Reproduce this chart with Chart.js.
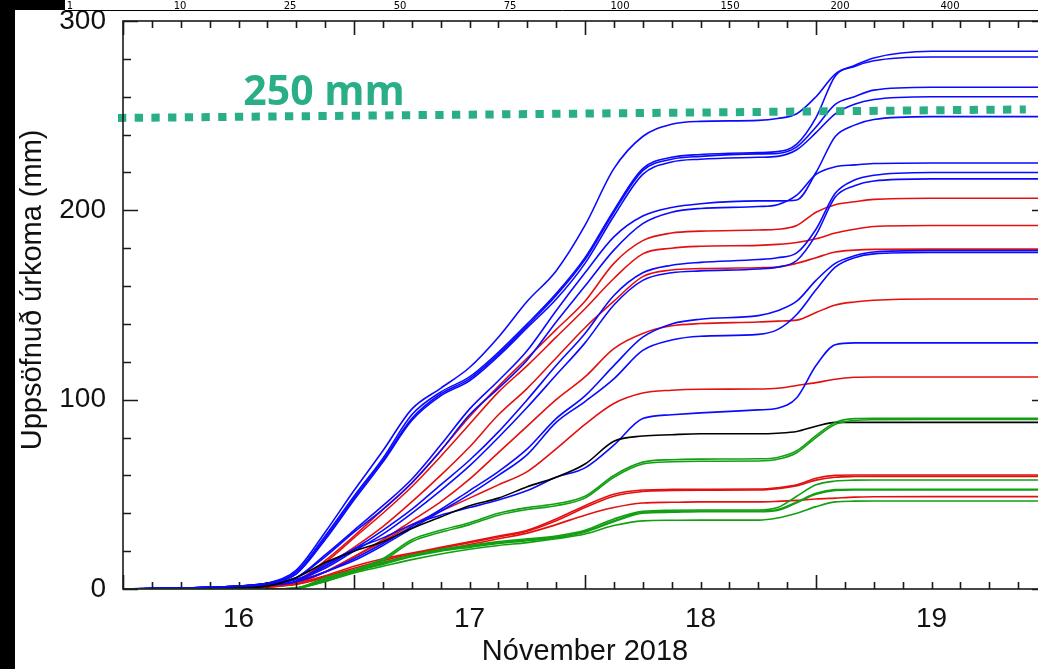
<!DOCTYPE html>
<html><head><meta charset="utf-8">
<script src="https://cdn.jsdelivr.net/npm/chart.js@4/dist/chart.umd.min.js"></script>
<style>
html,body{margin:0;padding:0;background:#fff;overflow:hidden}
#wrap{width:1038px;height:669px;overflow:hidden;position:relative;background:#fff}
canvas{display:block}
</style></head>
<body><div id="wrap"><canvas id="c" width="1060" height="669"></canvas></div>
<script>
// hours after 16 Nov 2018 00:00
const hours = [0, 6, 12, 15, 18, 21, 24, 27, 30, 33, 36, 39, 42, 45, 48, 51, 54, 57, 60, 66, 68, 70, 72, 74, 76, 78, 84, 96];

// blue stations
const blueT  = [0, 0.5, 1.5, 3, 10, 30, 52, 73, 95, 106, 117, 133, 152, 168, 192, 222, 239, 245.5, 247, 247.5, 248.5, 251, 260, 272, 276.5, 280.5, 284, 284];
const blueS1 = [0, 0.5, 1.5, 3, 9, 28, 49, 69, 92, 104, 112, 125, 140, 156, 175, 200, 222, 228, 229.5, 230.5, 231, 235, 249, 271, 276, 279, 281, 281];
const blueS2 = [0, 0.5, 1.5, 3, 8, 27, 48, 68, 90, 103, 111, 124, 139, 155, 174, 199, 221, 227, 228.5, 229.8, 230, 233.5, 244, 256, 260, 263.5, 265, 265];
const blueS3 = [0, 0.5, 1.5, 3, 8, 26, 47, 67, 89, 102, 110, 123, 138, 153, 172, 197, 219, 225.5, 227, 228, 228.5, 232, 241, 251, 256, 258.5, 260, 260];
const blueB5 = [0, 0.5, 1.5, 3, 6, 18, 31, 44, 58, 76, 95, 110, 126, 147, 167, 186, 197, 201.5, 203.5, 205, 205, 205.5, 220, 239, 245, 248, 249.5, 249.5];
const blueB6 = [0, 0.5, 1.5, 3, 6, 17, 30, 42, 56, 73, 92, 106, 121, 141, 160, 179, 193, 199, 201, 202, 203, 208, 219, 223, 224, 224.7, 225, 225];
const blueB7 = [0, 0.5, 1, 2.5, 5, 12, 21, 31, 42, 55, 68, 83, 100, 118, 135, 155, 167, 171, 172.5, 174, 175, 177.5, 190, 209, 216, 218.5, 220, 220];
const blueB8 = [0, 0.5, 1, 2.5, 5, 11, 20, 29, 40, 52, 65, 80, 96, 113, 130, 150, 163, 167, 168, 169, 170, 173.5, 187, 207, 213, 215.5, 216.6, 216.6];
const blueB9 = [0, 0.5, 1, 2, 4, 9, 16, 24, 33, 42, 52, 62, 74, 90, 102, 118, 133, 140, 142.5, 144.4, 147, 152, 163, 172, 176, 178, 178.7, 178.7];
const blueB10 = [0, 0.5, 1, 2, 4, 9, 15, 23, 32, 41, 50, 60, 71, 88, 99, 111, 126, 131.5, 133.5, 134.5, 137, 145, 158, 170, 175, 177, 177.7, 177.7];
const blueB11 = [0, 0.5, 1, 2, 4, 13, 21, 27, 34, 39, 43, 47, 52, 59, 64, 76, 90, 92, 93, 94.6, 95.5, 101, 118, 129, 130, 130, 130, 130];

// red stations
const redR1 = [0, 0, 0.5, 1.5, 4, 15, 28, 42, 56, 73, 91, 107, 122, 137, 152, 172, 184, 188, 189, 189.6, 190, 192, 199, 203, 204.5, 205.8, 206.4, 206.4];
const redR2 = [0, 0, 0.5, 1.5, 4, 14, 27, 40, 54, 70, 87, 104, 118, 133, 148, 164, 177, 180, 181, 181.5, 182, 183, 185, 188, 190, 191.5, 192, 192];
const redR3 = [0, 0, 0.5, 1.5, 3.5, 12, 22, 33, 46, 60, 75, 92, 106, 122, 138, 152, 165, 168.5, 169.2, 169.7, 170, 172, 175, 178, 179, 179.4, 179.5, 179.5];
const redR4 = [0, 0, 0.5, 1.5, 3, 9, 17, 26, 36, 46, 58, 72, 86, 100, 112, 127, 135, 139, 140.2, 141, 141.5, 142, 146, 150, 151.6, 152.5, 153.2, 153.2];
const redR5 = [0, 0, 0.5, 1.5, 3, 9, 17, 25, 34, 41, 48, 55, 62, 74, 87, 98, 103.5, 105, 105.5, 105.6, 106, 107.5, 109, 110.8, 111.8, 112, 112, 112];
const redR6 = [0, 0, 0.3, 1, 3, 7, 12, 16, 19, 22, 25, 28, 31, 37, 44, 50, 52.3, 52.6, 52.7, 52.8, 53.5, 55, 58.5, 60, 60.2, 60.2, 60.2, 60.2];
const redR6b = [0, 0, 0.3, 1, 2.5, 6.5, 11, 15, 18.5, 21.5, 24.5, 27.5, 30.5, 36, 43, 49, 51.5, 52, 52.2, 52.3, 53, 54.5, 57.5, 59, 59.4, 59.5, 59.5, 59.5];
const redR7 = [0, 0, 0.3, 1, 2.5, 6, 10, 14, 17.5, 20.5, 23.5, 26.5, 29.5, 34, 39, 43, 45.4, 45.8, 46, 46, 46.3, 46.8, 47.5, 48, 48.5, 48.7, 48.8, 48.8];

// black station
const blackK = [0, 0, 0.5, 1.5, 6, 14, 20, 25, 32, 38, 44, 48, 54, 59, 66, 78, 80.8, 81.5, 82, 82, 82.3, 83.2, 86, 88, 88, 88, 88, 88];

// green stations
const greenG1 = [0, 0, 0, 0, 0.5, 6, 10, 16, 26, 31, 35, 40, 43, 45, 49, 60, 67, 68.3, 68.6, 68.8, 69.5, 73, 81, 88, 90, 90.2, 90.2, 90.2];
const greenG2 = [0, 0, 0, 0, 0.5, 5.5, 9.5, 15, 25, 30, 34, 39, 42, 44, 48, 59, 66, 67.2, 67.5, 67.6, 68.5, 72, 80, 87, 89, 89.4, 89.5, 89.5];
const greenG3 = [0, 0, 0, 0, 0.5, 5, 10, 14, 18, 21, 23, 25, 26.5, 28, 31, 37, 41, 41.6, 41.7, 41.7, 43, 49, 55, 57, 57.5, 57.6, 57.6, 57.6];
const greenG4 = [0, 0, 0, 0, 0.5, 4.5, 9.5, 13.5, 17.5, 20.5, 22.5, 24.5, 26, 27.5, 30.5, 36, 40.5, 41, 41.2, 41.2, 42, 46, 50.5, 52.5, 52.7, 52.7, 52.7, 52.7];
const greenG4b = [0, 0, 0, 0, 0.5, 4, 9, 13, 17, 20, 22, 24, 25.5, 27, 30, 35.5, 40, 40.5, 40.8, 40.8, 41.5, 45.5, 50, 52, 52.3, 52.3, 52.3, 52.3];
const greenG5 = [0, 0, 0, 0, 0.3, 4, 8.5, 12, 15.5, 18.5, 21, 23, 24.5, 26.5, 29, 33.5, 36, 36.3, 36.4, 36.4, 37.5, 40, 43.5, 46, 46.4, 46.5, 46.5, 46.5];

// 250 mm reference line (end points, hours / mm)
const refLineHours = [-0.52, 93.8];
const refLineMM = [248.8, 253.3];
const refLabel = '250 mm';

// axis labels
const dayTickHours = [12, 36, 60, 84];
const dayTickLabels = ['16', '17', '18', '19'];
const xTitle = 'Nóvember 2018';
const yTitle = 'Uppsöfnuð úrkoma (mm)';
const topScaleLabels = ['1', '10', '25', '50', '75', '100', '150', '200', '400'];

const blueSeries = [blueT, blueS1, blueS2, blueS3, blueB5, blueB6, blueB7, blueB8, blueB9, blueB10, blueB11];
const redSeries = [redR1, redR2, redR3, redR4, redR5, redR6, redR6b, redR7];
const blackSeries = [blackK];
const greenSeries = [greenG1, greenG2, greenG3, greenG4, greenG4b, greenG5];

const TEAL = '#2aae88';
const FONT = '"Liberation Sans", Arial, sans-serif';
function mk(vals, color, order) {
  return {
    data: hours.map((h, i) => ({x: h, y: vals[i]})),
    borderColor: color, borderWidth: 1.6, pointRadius: 0, fill: false,
    cubicInterpolationMode: 'monotone', order: order
  };
}
const datasets = [];
datasets.push({
  data: refLineHours.map((h, i) => ({x: h, y: refLineMM[i]})),
  borderColor: TEAL, borderWidth: 8, borderDash: [8.3, 8.4], borderCapStyle: 'butt',
  pointRadius: 0, fill: false, clip: false, order: -1
});
greenSeries.forEach(v => datasets.push(mk(v, '#12a012', 1)));
blackSeries.forEach(v => datasets.push(mk(v, '#000000', 2)));
blueSeries.forEach(v => datasets.push(mk(v, '#0a0aff', 3)));
redSeries.forEach(v => datasets.push(mk(v, '#e41010', 4)));

const xMinorStep = 3, xMajorStep = 24, yMinorStep = 20, yMajorStep = 100;

const decor = {
  id: 'decor',
  beforeDraw(chart) {
    const {ctx, width, height} = chart;
    ctx.save(); ctx.fillStyle = '#fff'; ctx.fillRect(0, 0, width, height); ctx.restore();
  },
  afterDatasetsDraw(chart) {
    const {ctx, scales: {x, y}} = chart;
    ctx.save();
    ctx.fillStyle = TEAL;
    ctx.font = 'bold 41px "Open Sans"';
    ctx.textBaseline = 'alphabetic';
    ctx.fillText(refLabel, x.getPixelForValue(12.5), y.getPixelForValue(255.7));
    ctx.restore();
  },
  afterDraw(chart) {
    const {ctx, chartArea: a, scales: {x, y}} = chart;
    ctx.save();
    ctx.strokeStyle = '#1a1a1a'; ctx.lineWidth = 1.6; ctx.lineCap = 'butt';
    ctx.strokeRect(a.left, a.top, a.right - a.left, a.bottom - a.top);
    ctx.beginPath();
    for (let h = x.min; h <= x.max; h += xMinorStep) {
      const px = Math.round(x.getPixelForValue(h)) + 0.5;
      const len = (h % xMajorStep === 0) ? 14 : 7;
      ctx.moveTo(px, a.bottom); ctx.lineTo(px, a.bottom - len);
      ctx.moveTo(px, a.top); ctx.lineTo(px, a.top + len);
    }
    for (let v = y.min; v <= y.max; v += yMinorStep) {
      const py = Math.round(y.getPixelForValue(v)) + 0.5;
      const len = (v % yMajorStep === 0) ? 15 : 8;
      ctx.moveTo(a.left, py); ctx.lineTo(a.left + len, py);
      ctx.moveTo(a.right, py); ctx.lineTo(a.right - len, py);
    }
    ctx.stroke();
    // y axis title
    ctx.save();
    ctx.translate(33, y.getPixelForValue(158));
    ctx.rotate(-Math.PI / 2);
    ctx.fillStyle = '#111';
    ctx.font = '29px ' + FONT;
    ctx.textAlign = 'center'; ctx.textBaseline = 'middle';
    ctx.fillText(yTitle, 0, 0);
    ctx.restore();
    // black bars and the strip at the top
    ctx.fillStyle = '#000';
    ctx.fillRect(0, 0, 15, chart.height);
    ctx.fillRect(0, 0, 65, 10);
    ctx.fillStyle = '#fff';
    ctx.fillRect(65, 0, chart.width - 65, 10);
    ctx.strokeStyle = '#000'; ctx.lineWidth = 1;
    ctx.beginPath(); ctx.moveTo(65, 10.5); ctx.lineTo(chart.width, 10.5); ctx.stroke();
    ctx.fillStyle = '#000';
    ctx.font = '10px "DejaVu Sans"';
    ctx.textAlign = 'center'; ctx.textBaseline = 'alphabetic';
    topScaleLabels.forEach((t, i) => ctx.fillText(t, 70 + i * 110, 9));
    ctx.restore();
  }
};

new Chart(document.getElementById('c'), {
  type: 'line',
  data: {datasets},
  options: {
    responsive: false, animation: false, devicePixelRatio: 1,
    layout: {padding: {left: 0, top: 21, right: 13, bottom: 0}},
    plugins: {legend: {display: false}, tooltip: {enabled: false}},
    scales: {
      x: {
        type: 'linear', min: 0, max: 96,
        grid: {display: false, drawTicks: false},
        border: {display: false},
        afterBuildTicks: s => { s.ticks = dayTickHours.map(v => ({value: v})); },
        afterFit: s => { s.height = 80; s.paddingLeft = 0; s.paddingRight = 0; },
        ticks: {
          autoSkip: false, maxRotation: 0, padding: 13, color: '#111',
          font: {family: FONT, size: 28},
          callback: v => dayTickLabels[dayTickHours.indexOf(v)]
        },
        title: {display: true, text: xTitle, color: '#111', padding: {top: 0, bottom: 0},
          font: {family: FONT, size: 29}}
      },
      y: {
        type: 'linear', min: 0, max: 300,
        grid: {display: false, drawTicks: false},
        border: {display: false},
        afterFit: s => { s.width = 123; s.paddingTop = 0; s.paddingBottom = 0; },
        ticks: {
          stepSize: 100, padding: 17, color: '#111',
          font: {family: FONT, size: 28}
        },
        title: {display: false}
      }
    }
  },
  plugins: [decor]
});
</script>
</body></html>
